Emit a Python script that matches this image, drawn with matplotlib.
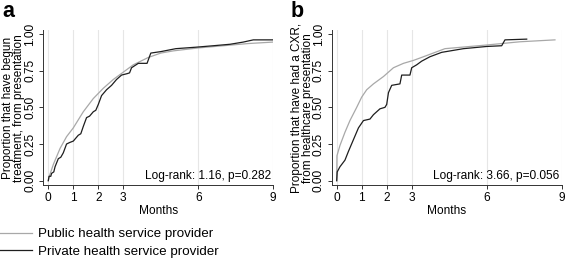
import matplotlib
matplotlib.use("Agg")
import matplotlib.pyplot as plt

plt.rcParams['font.family'] = ['Liberation Sans', 'DejaVu Sans']

# Panel a: time to treatment (months) vs proportion
a_pub_x = [0, 0.02, 0.2, 0.47, 0.73, 1.0, 1.4, 1.8, 2.2, 2.6, 3.0, 3.4, 4.0, 4.5, 5.0, 6.0, 7.0, 8.0, 9.0]
a_pub_y = [0.0, 0.02, 0.11, 0.22, 0.30, 0.36, 0.47, 0.56, 0.63, 0.69, 0.74, 0.79, 0.84, 0.87, 0.885, 0.905, 0.92, 0.935, 0.945]
a_priv_x = [0, 0.03, 0.1, 0.13, 0.22, 0.27, 0.4, 0.5, 0.6, 0.73, 0.85, 1.0, 1.2, 1.3, 1.4, 1.53, 1.65, 1.8, 1.9, 2.0, 2.13, 2.33,
            2.53, 2.73, 2.93, 3.16, 3.25, 3.33, 3.6, 3.95, 4.1, 4.5, 5.1, 5.9, 6.6, 7.27, 7.8, 8.2, 8.97]
a_priv_y = [0.0, 0.03, 0.03, 0.05, 0.06, 0.095, 0.15, 0.16, 0.19, 0.25, 0.26, 0.27, 0.31, 0.32, 0.37, 0.43, 0.44, 0.47, 0.48, 0.52,
            0.58, 0.62, 0.65, 0.69, 0.72, 0.73, 0.735, 0.77, 0.80, 0.80, 0.87, 0.88, 0.90, 0.91, 0.92, 0.93, 0.945, 0.96, 0.96]

# Panel b: time to CXR (months) vs proportion
b_pub_x = [0, 0.01, 0.13, 0.33, 0.53, 0.8, 1.0, 1.2, 1.47, 1.87, 2.27, 2.67, 3.07, 3.47, 4.33, 6.0, 7.33, 8.73]
b_pub_y = [0.0, 0.17, 0.24, 0.33, 0.41, 0.50, 0.57, 0.62, 0.66, 0.71, 0.77, 0.80, 0.82, 0.845, 0.90, 0.925, 0.947, 0.96]
b_priv_x = [0, 0.02, 0.13, 0.33, 0.47, 0.67, 0.87, 1.07, 1.33, 1.47, 1.73, 1.93, 2.0, 2.07, 2.2, 2.53, 2.6, 2.93, 3.0, 3.2,
            3.4, 3.73, 4.2, 5.07, 6.0, 6.6, 6.73, 7.6]
b_priv_y = [0.0, 0.06, 0.095, 0.14, 0.20, 0.28, 0.36, 0.41, 0.42, 0.45, 0.49, 0.50, 0.52, 0.60, 0.65, 0.66, 0.72, 0.72, 0.77, 0.79,
            0.815, 0.845, 0.875, 0.90, 0.915, 0.92, 0.96, 0.965]

x_ticks = [0, 1, 2, 3, 6, 9]
y_ticks = [0, 0.25, 0.5, 0.75, 1.0]
y_tick_labels = ["0.00", "0.25", "0.50", "0.75", "1.00"]

panel_letters = ["a", "b"]
y_labels = ["Proportion that have begun\ntreatment, from presentation",
            "Proportion that have had a CXR,\nfrom healthcare presentation"]
logrank = ["Log-rank: 1.16, p=0.282", "Log-rank: 3.66, p=0.056"]
series_labels = ["Public health service provider", "Private health service provider"]

W, H = 567, 259
fig = plt.figure(figsize=(W / 100, H / 100), dpi=100)

GRAY = "#a8a8a8"
DARK = "#1e1e1e"
FS = 8.6

panels = [(a_pub_x, a_pub_y, a_priv_x, a_priv_y), (b_pub_x, b_pub_y, b_priv_x, b_priv_y)]
lefts = [43.3, 331.7]
handles = []
for i, (px, py, vx, vy) in enumerate(panels):
    left = lefts[i]
    ax = fig.add_axes([left / W, (H - 185.1) / H, 230 / W, 155.5 / H])
    ax.set_xlim(-0.2, 9.0)
    ax.set_ylim(-0.03, 1.03)
    for g in x_ticks:
        ax.axvline(g, color="#e6e6e6", lw=0.8, zorder=0)
    l1, = ax.plot(px, py, color=GRAY, lw=0.9, zorder=2)
    l2, = ax.plot(vx, vy, color=DARK, lw=0.9, zorder=3)
    if i == 0:
        handles = [l1, l2]
    for s in ["top", "right"]:
        ax.spines[s].set_visible(False)
    for s in ["left", "bottom"]:
        ax.spines[s].set_color("#333333")
        ax.spines[s].set_linewidth(0.7)
    ax.set_xticks(x_ticks)
    ax.set_xticklabels([str(t) for t in x_ticks], fontsize=FS)
    ax.set_yticks(y_ticks)
    ax.set_yticklabels(y_tick_labels, fontsize=FS, rotation=90, va="center")
    ax.tick_params(length=3, width=0.7, color="#333333", pad=2)
    ax.set_xlabel("Months", fontsize=FS, labelpad=1)
    ax.text(0.99, 0.02, logrank[i], transform=ax.transAxes, ha="right", va="bottom", fontsize=FS)
    fig.text((left - 29.5) / W, (H - 108) / H, y_labels[i], rotation=90, ha="center", va="center",
             multialignment="center", fontsize=8.5, linespacing=0.88)
    fig.text((left - 41) / W, (H - 17) / H, panel_letters[i], fontsize=15.5, fontweight="bold",
             ha="left", va="baseline")

fig.legend(handles, series_labels, loc="upper left", bbox_to_anchor=(0.0, 1 - 228 / H),
           frameon=False, fontsize=9.6, handlelength=2.4, handletextpad=0.45,
           labelspacing=0.4, borderpad=0, borderaxespad=0)

fig.savefig("out.png", dpi=100, facecolor="white")
